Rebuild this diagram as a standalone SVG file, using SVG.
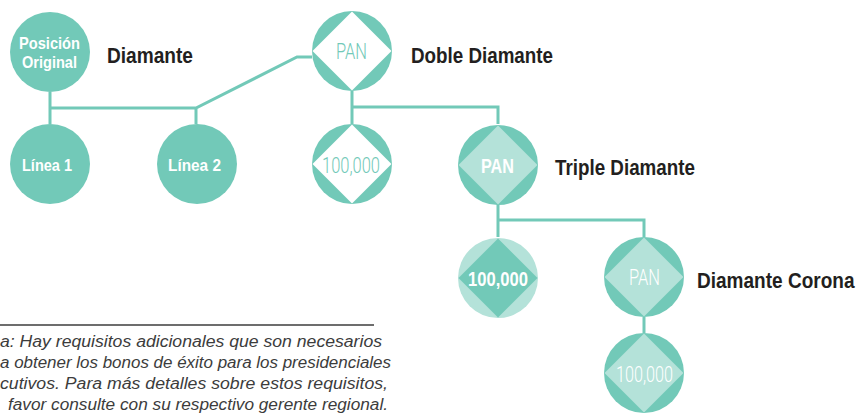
<svg xmlns="http://www.w3.org/2000/svg" width="859" height="413" viewBox="0 0 859 413">
<style>
.t{fill:#72c9b8}
.lt{fill:#b4e2d9}
.wh{fill:#ffffff}
.con{fill:none;stroke:#72c9b8;stroke-width:3}
.lbl{font-family:"Liberation Sans Narrow","Liberation Sans",Arial,sans-serif;font-weight:bold;font-size:22px;fill:#231f20}
.bw{font-family:"Liberation Sans Narrow","Liberation Sans",Arial,sans-serif;font-weight:bold;fill:#ffffff}
.thin{font-family:Roboto,"Liberation Sans",Arial,sans-serif;font-weight:300;font-size:22px}
.note{font-family:"Liberation Sans",Arial,sans-serif;font-style:italic;font-size:16px;fill:#3c3c3c}
</style>
<g id="connectors">
<path class="con" d="M50,92V124M50,108H196L297,57H312M196,108V124"/>
<path class="con" d="M352,91V124M352,107H498V124"/>
<path class="con" d="M498,204V237M498,220H644V237"/>
<path class="con" d="M644,317V333"/>
</g>
<g id="posicion-original">
<circle class="t" cx="50" cy="52" r="40"/>
<text class="bw" x="19" y="49" font-size="17" textLength="61" lengthAdjust="spacingAndGlyphs">Posición</text>
<text class="bw" x="22" y="68" font-size="17" textLength="55" lengthAdjust="spacingAndGlyphs">Original</text>
</g>
<g id="label-diamante"><text class="lbl" x="107" y="63" textLength="86" lengthAdjust="spacingAndGlyphs">Diamante</text></g>
<g id="linea-1">
<circle class="t" cx="50" cy="164" r="40"/>
<text class="bw" x="22" y="171" font-size="17" textLength="50" lengthAdjust="spacingAndGlyphs">Línea 1</text>
</g>
<g id="linea-2">
<circle class="t" cx="197" cy="164" r="40"/>
<text class="bw" x="168" y="171" font-size="17" textLength="53" lengthAdjust="spacingAndGlyphs">Línea 2</text>
</g>
<g id="doble-pan">
<circle class="t" cx="352" cy="51" r="40"/>
<polygon class="wh" points="352,11.5 391.5,51 352,90.5 312.5,51"/>
<text class="thin t" x="336" y="59" textLength="31" lengthAdjust="spacingAndGlyphs">PAN</text>
</g>
<g id="label-doble"><text class="lbl" x="411" y="63" textLength="142" lengthAdjust="spacingAndGlyphs">Doble Diamante</text></g>
<g id="doble-100000">
<circle class="t" cx="352" cy="164" r="40"/>
<polygon class="wh" points="352,124.5 391.5,164 352,203.5 312.5,164"/>
<text class="thin t" x="322" y="173" textLength="58" lengthAdjust="spacingAndGlyphs">100,000</text>
</g>
<g id="triple-pan">
<circle class="t" cx="498" cy="165" r="40"/>
<polygon class="lt" points="498,125.5 537.5,165 498,204.5 458.5,165"/>
<text class="bw" x="481" y="173" font-size="21" textLength="33" lengthAdjust="spacingAndGlyphs">PAN</text>
</g>
<g id="label-triple"><text class="lbl" x="555" y="175" textLength="140" lengthAdjust="spacingAndGlyphs">Triple Diamante</text></g>
<g id="triple-100000">
<circle class="lt" cx="498" cy="278" r="40"/>
<polygon class="t" points="498,238.5 537.5,278 498,317.5 458.5,278"/>
<text class="bw" x="468" y="286" font-size="20" textLength="60" lengthAdjust="spacingAndGlyphs">100,000</text>
</g>
<g id="corona-pan">
<circle class="t" cx="644" cy="277" r="40"/>
<polygon class="lt" points="644,237.5 683.5,277 644,316.5 604.5,277"/>
<text class="thin wh" x="629" y="285" textLength="31" lengthAdjust="spacingAndGlyphs">PAN</text>
</g>
<g id="label-corona"><text class="lbl" transform="translate(697 288) scale(0.88 1)" x="0" y="0" textLength="179" lengthAdjust="spacingAndGlyphs">Diamante Corona</text></g>
<g id="corona-100000">
<circle class="t" cx="644" cy="373" r="40"/>
<polygon class="lt" points="644,333.5 683.5,373 644,412.5 604.5,373"/>
<text class="thin wh" x="616" y="382" textLength="57" lengthAdjust="spacingAndGlyphs">100,000</text>
</g>
<g id="footnote">
<line x1="0" y1="325" x2="374" y2="325" stroke="#3c3c3c" stroke-width="1.3"/>
<text class="note" x="0" y="347" textLength="382" lengthAdjust="spacingAndGlyphs">a: Hay requisitos adicionales que son necesarios</text>
<text class="note" x="0" y="368" textLength="391" lengthAdjust="spacingAndGlyphs">a obtener los bonos de éxito para los presidenciales</text>
<text class="note" x="0" y="389" textLength="388" lengthAdjust="spacingAndGlyphs">cutivos. Para más detalles sobre estos requisitos,</text>
<text class="note" x="8" y="410" textLength="380" lengthAdjust="spacingAndGlyphs">favor consulte con su respectivo gerente regional.</text>
</g>
</svg>
